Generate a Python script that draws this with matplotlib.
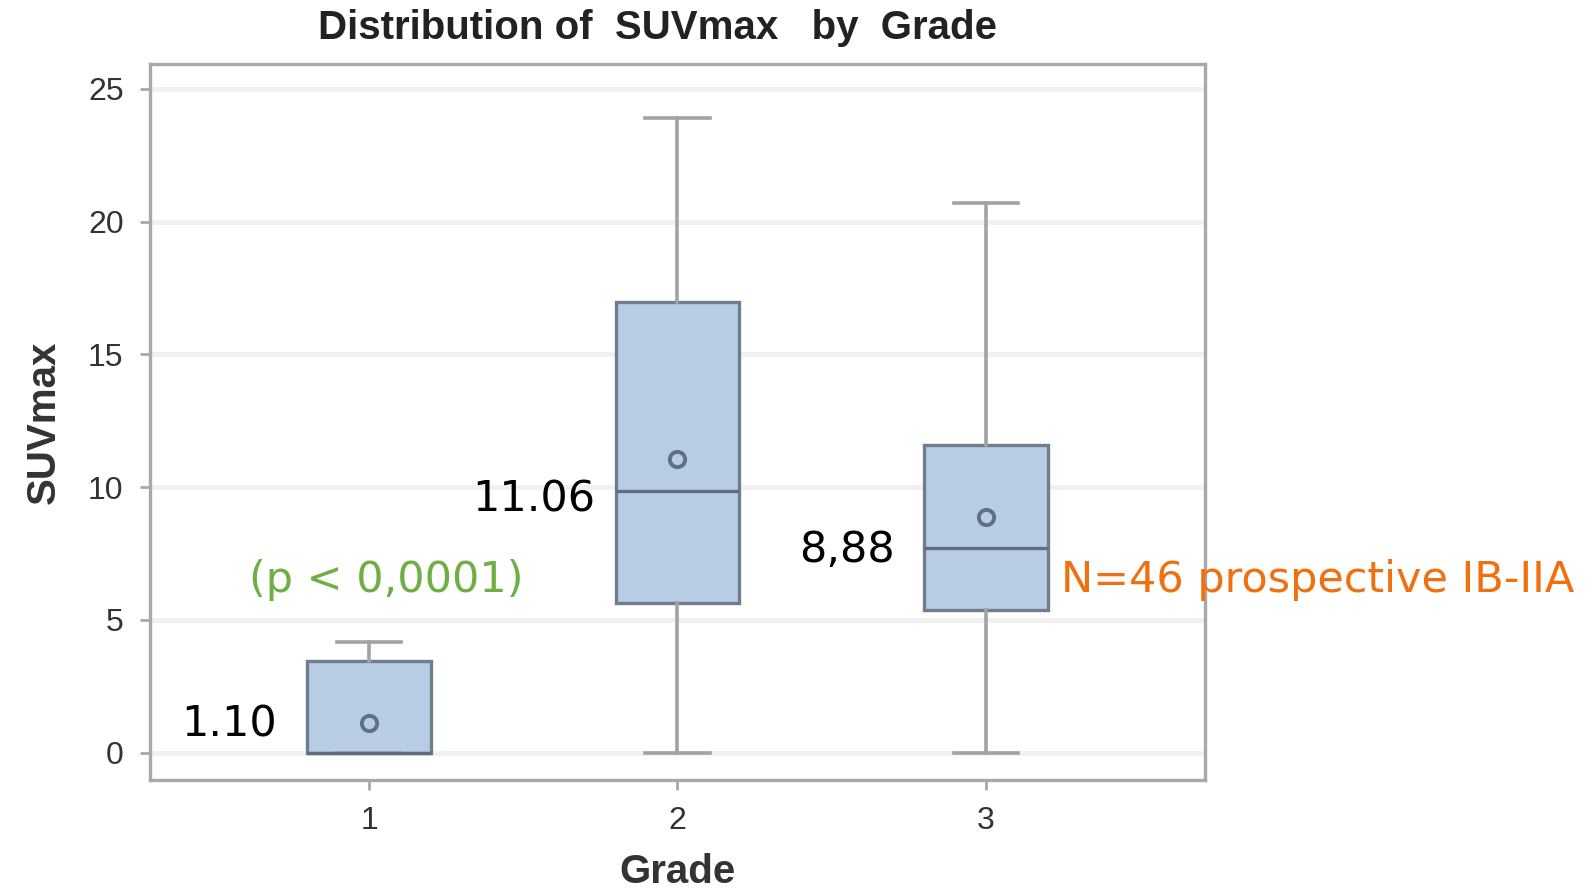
import matplotlib
matplotlib.use("Agg")
import matplotlib.pyplot as plt

# ---- data ----
grades = [1, 2, 3]
q1 = [0.0, 5.63, 5.36]
median = [0.0, 9.85, 7.70]
q3 = [3.45, 16.97, 11.57]
whis_lo = [0.0, 0.0, 0.0]
whis_hi = [4.18, 23.9, 20.69]
means = [1.10, 11.06, 8.88]
mean_labels = ["1.10", "11.06", "8,88"]
yticks = [0, 5, 10, 15, 20, 25]

fig = plt.figure(figsize=(15.94, 8.89), dpi=100)
ax = fig.add_axes([150/1594, 1-780/889, (1205-150)/1594, (780-64)/889])

stats = []
for i in range(len(grades)):
    stats.append(dict(med=median[i], q1=q1[i], q3=q3[i], whislo=whis_lo[i],
                      whishi=whis_hi[i], mean=means[i], label=str(grades[i]), fliers=[]))

box_edge = "#6f7d8e"
ax.bxp(stats, positions=grades, widths=0.40, patch_artist=True, showmeans=True,
       boxprops=dict(facecolor="#b8cde4", edgecolor=box_edge, linewidth=2.4),
       medianprops=dict(color="#5f6d7e", linewidth=2.4),
       whiskerprops=dict(color="#a3a3a3", linewidth=2.6),
       capprops=dict(color="#a3a3a3", linewidth=2.6),
       capwidths=0.21,
       meanprops=dict(marker="o", markersize=11, markerfacecolor="none",
                      markeredgecolor="#5f6f84", markeredgewidth=2.8),
       zorder=3)

ax.set_xlim(0.29, 3.71)
ax.set_ylim(-1.03, 25.94)
ax.set_yticks(yticks)
ax.set_xticks(grades)
ax.set_xticklabels([str(g) for g in grades])

ax.grid(axis="y", color="#f1f1f1", linewidth=3.5, zorder=0)
ax.set_axisbelow(True)
for s in ax.spines.values():
    s.set_color("#a8a8a8")
    s.set_linewidth(2.4)
ax.tick_params(axis="both", colors="#a8a8a8", width=2, length=7,
               labelcolor="#333333", labelsize=23)
for lab in ax.get_xticklabels() + ax.get_yticklabels():
    lab.set_family("Liberation Sans")
ax.tick_params(axis="y", pad=12)
ax.tick_params(axis="x", pad=12)

ax.set_xlabel("Grade", family="Liberation Sans", fontsize=29, fontweight="bold",
              color="#333333", labelpad=12)
ax.set_ylabel("SUVmax", family="Liberation Sans", fontsize=29, fontweight="bold",
              color="#333333", labelpad=18)
ax.set_title("Distribution of  SUVmax   by  Grade", family="Liberation Sans",
             fontsize=29, fontweight="bold", color="#222222", pad=18, x=0.481)

# annotations
ann_font = "DejaVu Sans"
label_x = [0.545, 1.535, 2.551]
label_y = [0.59, 9.08, 7.18]
for x, y, t in zip(label_x, label_y, mean_labels):
    ax.text(x, y, t, ha="center", va="baseline", fontsize=31, family=ann_font,
            color="black", zorder=5)
ax.text(1.056, 6.05, "(p < 0,0001)", ha="center", va="baseline", fontsize=31,
        family=ann_font, color="#6fae45", zorder=5)
ax.text(3.244, 6.05, "N=46 prospective IB-IIA", ha="left", va="baseline", fontsize=31,
        family=ann_font, color="#f07010", zorder=5, clip_on=False)

fig.savefig("out.png", dpi=100)
